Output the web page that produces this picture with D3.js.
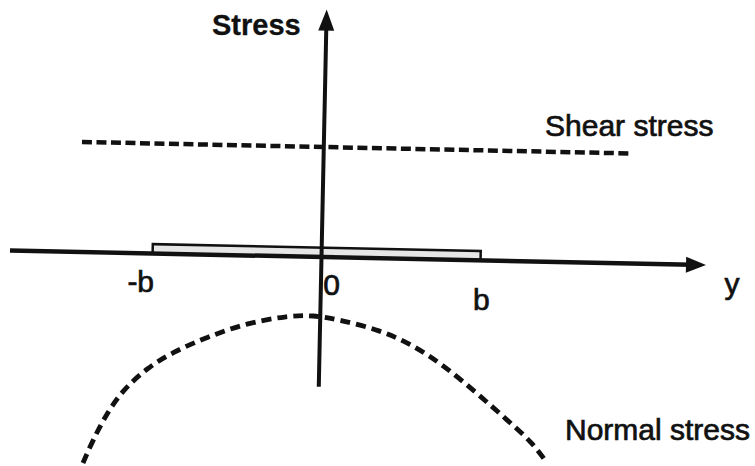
<!DOCTYPE html>
<html>
<head>
<meta charset="utf-8">
<script src="https://cdn.jsdelivr.net/npm/d3@7"></script>
<style>
  body { margin: 0; background: #fff; }
  text { font-family: "Liberation Sans", Arial, sans-serif; fill: #111; stroke: #111; stroke-width: 0.7px; }
</style>
</head>
<body>
<div class="chart-box"></div>
<script>
// values in units of b (horizontal) and of the shear stress level (vertical)
let axisY = [-1.90, 2.345];
let axisStress = [-1.18, 2.25];
let plate = [-1.03, 0.97];
let shearY = [-1.475, 1.868];
let shearValue = 1.0;
let normalY = [-1.428, -1.370, -1.288, -1.193, -1.050, -0.893, -0.688, -0.446, -0.203, -0.045,
  0.121, 0.366, 0.569, 0.755, 0.965, 1.152, 1.313, 1.401];
let normalStress = [-1.918, -1.707, -1.459, -1.247, -1.042, -0.892, -0.749, -0.614, -0.543, -0.529,
  -0.569, -0.653, -0.783, -0.959, -1.207, -1.446, -1.651, -1.830];
let tickValues = [-1, 0, 1];
let tickLabels = ["-b", "0", "b"];

let width = 755, height = 466;
let tilt = 1.2; // the scanned figure sits slightly rotated

let svg = d3.select('.chart-box')
  .append('svg')
  .attr('width', width)
  .attr('height', height)
  .style('display', 'block');

svg.append('rect').attr('width', width).attr('height', height).attr('fill', '#fff');

let x = d3.scaleLinear().domain([0, 1]).range([0, 164]);
let y = d3.scaleLinear().domain([0, 1]).range([0, -110]);

let g = svg.append('g')
  .attr('transform', `translate(321.5,257) rotate(${tilt})`);

// plate
g.append('rect')
  .attr('x', x(plate[0]))
  .attr('y', y(0.085))
  .attr('width', x(plate[1]) - x(plate[0]))
  .attr('height', y(0) - y(0.085))
  .attr('fill', '#e6e6e6')
  .attr('stroke', '#111')
  .attr('stroke-width', 2.5);

// horizontal axis
g.append('line')
  .attr('x1', x(axisY[0])).attr('x2', x(axisY[1]) - 14)
  .attr('y1', y(0)).attr('y2', y(0))
  .attr('stroke', '#111').attr('stroke-width', 4.5);
g.append('path')
  .attr('d', `M${x(axisY[1])},${y(0)} L${x(axisY[1]) - 20},${y(0) - 8} L${x(axisY[1]) - 20},${y(0) + 8} Z`)
  .attr('fill', '#111');

// vertical axis
g.append('line')
  .attr('x1', x(0)).attr('x2', x(0))
  .attr('y1', y(axisStress[0])).attr('y2', y(axisStress[1]) + 14)
  .attr('stroke', '#111').attr('stroke-width', 4);
g.append('path')
  .attr('d', `M${x(0)},${y(axisStress[1])} L${x(0) - 8},${y(axisStress[1]) + 21} L${x(0) + 8},${y(axisStress[1]) + 21} Z`)
  .attr('fill', '#111');

// shear stress
g.append('line')
  .attr('x1', x(shearY[0])).attr('x2', x(shearY[1]))
  .attr('y1', y(shearValue)).attr('y2', y(shearValue))
  .attr('stroke', '#111')
  .attr('stroke-width', 4.5)
  .attr('stroke-dasharray', '10,4.5');

// normal stress
let normalData = normalY.map((v, i) => ({ y: v, s: normalStress[i] }));
let line = d3.line()
  .x(d => x(d.y))
  .y(d => y(d.s))
  .curve(d3.curveBasis);

g.append('path')
  .datum(normalData)
  .attr('d', line)
  .attr('fill', 'none')
  .attr('stroke', '#111')
  .attr('stroke-width', 4.8)
  .attr('stroke-dasharray', '10,6');

// tick labels
let tickNudge = [[-16, 39], [11, 38], [-3, 50]];
g.selectAll('.tick-label')
  .data(tickValues)
  .enter()
  .append('text')
  .attr('class', 'tick-label')
  .attr('transform', (d, i) => `translate(${x(d) + tickNudge[i][0]},${tickNudge[i][1]}) rotate(${-tilt})`)
  .attr('text-anchor', 'middle')
  .style('font-size', '30px')
  .text((d, i) => tickLabels[i]);

// titles
svg.append('text')
  .attr('x', 212).attr('y', 35)
  .style('font-size', '29px')
  .style('font-weight', 'bold')
  .style('stroke-width', '0.3px')
  .text('Stress');

svg.append('text')
  .attr('x', 732).attr('y', 294)
  .attr('text-anchor', 'middle')
  .style('font-size', '30px')
  .text('y');

svg.append('text')
  .attr('x', 545).attr('y', 136)
  .style('font-size', '30px')
  .text('Shear stress');

svg.append('text')
  .attr('x', 565).attr('y', 440)
  .style('font-size', '30px')
  .text('Normal stress');
</script>
</body>
</html>
